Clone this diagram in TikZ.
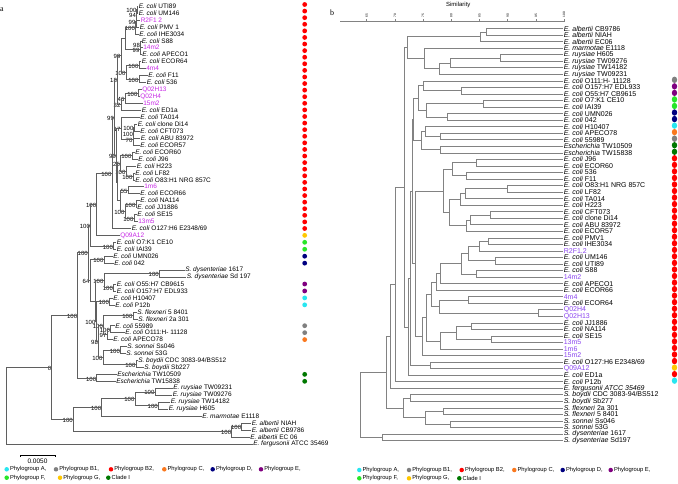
\documentclass[tikz,border=0pt]{standalone}
\usepackage{fontspec}
\setmainfont{Liberation Sans}
\newfontfamily\serifF{Liberation Serif}
\usetikzlibrary{calc,shapes.geometric}
\definecolor{cA}{RGB}{40,230,240}
\definecolor{cBa}{RGB}{128,128,128}
\definecolor{cBb}{RGB}{255,0,0}
\definecolor{cC}{RGB}{250,120,30}
\definecolor{cD}{RGB}{0,0,128}
\definecolor{cE}{RGB}{128,0,128}
\definecolor{cF}{RGB}{40,230,40}
\definecolor{cG}{RGB}{255,200,0}
\definecolor{cI}{RGB}{0,120,0}
\definecolor{magL}{RGB}{200,40,230}
\definecolor{magR}{RGB}{140,70,240}
\definecolor{brL}{RGB}{95,95,95}
\definecolor{brR}{RGB}{130,130,130}
\newcommand\ec{\textit{E. coli}}
\newcommand\ii[1]{\textit{#1}}
\tikzset{
 brl/.style={draw=brL, line width=0.45pt},
 brr/.style={draw=brR, line width=0.5pt},
 lbl/.style={anchor=west, inner sep=0.6pt, font=\fontsize{6.5}{6.5}\selectfont},
 lbr/.style={anchor=west, inner sep=0.6pt, font=\fontsize{7}{7}\selectfont},
 bs/.style={anchor=east, inner sep=0.4pt, yshift=-1.2pt, font=\fontsize{6}{6}\selectfont},
 dotl/.style={circle, inner sep=0pt, minimum size=4.8pt},
 dotr/.style={ellipse, inner sep=0pt, minimum width=5.4pt, minimum height=6.4pt},
 lgd/.style={circle, inner sep=0pt, minimum size=4.5pt},
 lgt/.style={anchor=west, inner sep=0.5pt, font=\fontsize{5.8}{5.8}\selectfont},
 tkl/.style={rotate=90, anchor=west, inner sep=0.3pt, font=\fontsize{3.2}{3.2}\selectfont},
}
\newcommand\lfL[3]{\coordinate (L#1) at (#2,{6+(#1-1)*6.95}); \node[lbl] (L#1t) at (L#1) {#3};}
\newcommand\ndL[5]{\path let \p1=($(#3)!0.5!(#4)$) in coordinate (#1) at (#2,\y1); \draw[brl] (#1) |- (#3) (#1) |- (#4); \node[bs] (#1b) at (#1) {#5};}
\newcommand\lfR[2]{\coordinate (R#1) at (563,{28.5+(#1-1)*6.54}); \node[lbr] (R#1t) at (R#1) {#2};}
\newcommand\ndR[4]{\path let \p1=($(#3)!0.5!(#4)$) in coordinate (#1) at (#2,\y1); \draw[brr] (#1) |- (#3) (#1) |- (#4);}
\begin{document}
\begin{tikzpicture}[x=1pt,y=-1pt]
\useasboundingbox[fill=white] (0,0) rectangle (678,483);
\node[anchor=west, inner sep=0pt, font=\serifF\fontsize{8}{8}\selectfont] (pa) at (0,10) {a};
\node[anchor=west, inner sep=0pt, font=\serifF\fontsize{8}{8}\selectfont] (pb) at (330,12.7) {b};
% ---------------- left tree leaves
\lfL{1}{138}{\ec\ UTI89}
\lfL{2}{138}{\ec\ UM146}
\lfL{3}{140}{\textcolor{magL}{R2F1 2}}
\lfL{4}{139}{\ec\ PMV 1}
\lfL{5}{138.5}{\ec\ IHE3034}
\lfL{6}{141}{\ec\ S88}
\lfL{7}{142.5}{\textcolor{magL}{14m2}}
\lfL{8}{141.5}{\ec\ APECO1}
\lfL{9}{141}{\ec\ ECOR64}
\lfL{10}{145.5}{\textcolor{magL}{4m4}}
\lfL{11}{147.5}{\ec\ F11}
\lfL{12}{146}{\ec\ 536}
\lfL{13}{141.5}{\textcolor{magL}{Q02H13}}
\lfL{14}{139.5}{\textcolor{magL}{Q02H4}}
\lfL{15}{142.5}{\textcolor{magL}{15m2}}
\lfL{16}{141}{\ec\ ED1a}
\lfL{17}{139.5}{\ec\ TA014}
\lfL{18}{137}{\ec\ clone Di14}
\lfL{19}{139.5}{\ec\ CFT073}
\lfL{20}{140}{\ec\ ABU 83972}
\lfL{21}{139.5}{\ec\ ECOR57}
\lfL{22}{134.5}{\ec\ ECOR60}
\lfL{23}{137.5}{\ec\ J96}
\lfL{24}{136}{\ec\ H223}
\lfL{25}{134.5}{\ec\ LF82}
\lfL{26}{134.5}{\ec\ O83:H1 NRG 857C}
\lfL{27}{143.5}{\textcolor{magL}{1m6}}
\lfL{28}{139.5}{\ec\ ECOR66}
\lfL{29}{139.5}{\ec\ NA114}
\lfL{30}{136.5}{\ec\ JJ1886}
\lfL{31}{136.5}{\ec\ SE15}
\lfL{32}{137.5}{\textcolor{magL}{13m5}}
\lfL{33}{131}{\ec\ O127:H6 E2348/69}
\lfL{34}{119.5}{\textcolor{magL}{Q09A12}}
\lfL{35}{116}{\ec\ O7:K1 CE10}
\lfL{36}{116}{\ec\ IAI39}
\lfL{37}{112.5}{\ec\ UMN026}
\lfL{38}{113.5}{\ec\ 042}
\lfL{39}{184.5}{\ii{S. dysenteriae} 1617}
\lfL{40}{186}{\ii{S. dysenteriae} Sd 197}
\lfL{41}{116}{\ec\ O55:H7 CB9615}
\lfL{42}{116}{\ec\ O157:H7 EDL933}
\lfL{43}{112.5}{\ec\ H10407}
\lfL{44}{114.5}{\ec\ P12b}
\lfL{45}{136.5}{\ii{S. flexneri} 5 8401}
\lfL{46}{137.5}{\ii{S. flexneri} 2a 301}
\lfL{47}{114.5}{\ec\ 55989}
\lfL{48}{124.5}{\ec\ O111:H- 11128}
\lfL{49}{112.5}{\ec\ APECO78}
\lfL{50}{126.5}{\ii{S. sonnei} Ss046}
\lfL{51}{125.5}{\ii{S. sonnei} 53G}
\lfL{52}{137.5}{\ii{S. boydii} CDC 3083-94/BS512}
\lfL{53}{143.5}{\ii{S. boydii} Sb227}
\lfL{54}{116.5}{\ii{Escherichia} TW10509}
\lfL{55}{115.5}{\ii{Escherichia} TW15838}
\lfL{56}{172.5}{\ii{E. ruysiae} TW09231}
\lfL{57}{172}{\ii{E. ruysiae} TW09276}
\lfL{58}{170}{\ii{E. ruysiae} TW14182}
\lfL{59}{168}{\ii{E. ruysiae} H605}
\lfL{60}{201.5}{\ii{E. marmotae} E1118}
\lfL{61}{251}{\ii{E. albertii} NIAH}
\lfL{62}{251}{\ii{E. albertii} CB9786}
\lfL{63}{249.5}{\ii{E. albertii} EC 06}
\lfL{64}{252.5}{\ii{E. fergusonii} ATCC 35469}
% ---------------- left tree internal nodes
\ndL{n1}{137}{L1}{L2}{100}
\ndL{n2}{136.5}{n1}{L3}{94}
\ndL{n3}{136}{n2}{L4}{99}
\ndL{n4}{135.5}{n3}{L5}{100}
\ndL{n5}{140.5}{L6}{L7}{98}
\ndL{n6}{140}{n5}{L8}{99}
\ndL{n7}{125}{n4}{n6}{}
\ndL{n8}{139}{L9}{L10}{100}
\ndL{n9}{139}{L11}{L12}{100}
\ndL{n10}{126}{n8}{n9}{100}
\ndL{n11}{121}{n7}{n10}{99}
\ndL{n12}{138}{L13}{L14}{100}
\ndL{n13}{125}{n12}{L15}{46}
\ndL{n14}{121}{n13}{L16}{32}
\ndL{n15}{117.5}{n11}{n14}{18}
\ndL{n16}{134}{L18}{L19}{100}
\ndL{n17}{133.5}{n16}{L20}{100}
\ndL{n18}{133}{n17}{L21}{70}
\ndL{n19}{121}{L17}{n18}{17}
\ndL{n21}{132}{L22}{L23}{100}
\ndL{n22}{133}{L25}{L26}{100}
\ndL{n23}{126}{L24}{n22}{100}
\ndL{n24}{120.5}{n21}{n23}{25}
\ndL{n25}{128}{L27}{L28}{55}
\ndL{n26}{136}{L29}{L30}{100}
\ndL{n27}{134}{L31}{L32}{100}
\ndL{n28}{125}{n26}{n27}{100}
\ndL{n29}{120}{n25}{n28}{}
\ndL{n30}{117.5}{n24}{n29}{}
\ndL{n20}{116.5}{n19}{n30}{99}
\ndL{n31}{114.5}{n15}{n20}{99}
\ndL{nB}{112}{n31}{L33}{100}
\ndL{nG}{96.7}{nB}{L34}{100}
\ndL{nF}{113.5}{L35}{L36}{100}
\ndL{nGF}{90.5}{nG}{nF}{100}
\ndL{nD}{104}{L37}{L38}{100}
\ndL{nSD}{159.3}{L39}{L40}{100}
\ndL{nOE}{113.5}{L41}{L42}{100}
\ndL{nE}{104}{nSD}{nOE}{100}
\ndL{nHP}{109.5}{L43}{L44}{100}
\ndL{nFL}{133}{L45}{L46}{100}
\ndL{nBa}{110.5}{L47}{L48}{100}
\ndL{nBb}{107}{nBa}{L49}{97}
\ndL{nFB}{103.5}{nFL}{nBb}{100}
\ndL{nSS}{120.5}{L50}{L51}{100}
\ndL{nBB}{136}{L52}{L53}{100}
\ndL{nSB2}{103}{nSS}{nBB}{100}
\ndL{nSB}{98.5}{nFB}{nSB2}{98}
\ndL{nAB}{96}{nHP}{nSB}{100}
\ndL{nS}{95}{nE}{nAB}{}
\ndL{nR}{90}{nD}{nS}{64}
\ndL{nQ}{88.3}{nGF}{nR}{100}
\ndL{nESC}{96.7}{L54}{L55}{100}
\ndL{nP}{77.7}{nQ}{nESC}{100}
\ndL{nR1}{155}{L56}{L57}{100}
\ndL{nR2}{158.3}{L58}{L59}{100}
\ndL{nRU}{135}{nR1}{nR2}{100}
\ndL{nRM}{101.7}{nRU}{L60}{100}
\ndL{nAL1}{241.7}{L61}{L62}{100}
\ndL{nAL}{231.7}{nAL1}{L63}{100}
\ndL{nOUT}{73.3}{nRM}{nAL}{100}
\ndL{nZ}{51.7}{nP}{nOUT}{0}
\ndL{nROOT}{6.7}{nZ}{L64}{}
% left dots
\foreach \k in {0,...,34} {\node[dotl, fill=cBb] (dl\k) at (304.7,{4.5+\k*6.588}) {};}
\foreach \i/\c in {34/cG,35/cF,36/cF,37/cD,38/cD,41/cE,42/cE,43/cA,44/cA,47/cBa,48/cBa,49/cC,54/cI,55/cI}
  {\node[dotl, fill=\c] (dm\i) at (304.7,{6+(\i-1)*6.95}) {};}
% scale bar
\coordinate (sb1) at (20,455); \coordinate (sb2) at (55,455);
\draw[line width=0.5pt] (sb1) -- (sb2);
\draw[line width=0.5pt] (sb1) -- ++(0,2); \draw[line width=0.5pt] (sb2) -- ++(0,2);
\node[font=\fontsize{6.5}{6.5}\selectfont, inner sep=0pt] (sbt) at (37.5,461) {0.0050};
% left legend
\foreach \n/\x/\c/\t/\y in {A/6.7/cA/{Phylogroup A,}/469.3, B1/56/cBa/{Phylogroup B1,}/469.3, B2/111/cBb/{Phylogroup B2,}/469.3, C/164.3/cC/{Phylogroup C,}/469.3, D/212.7/cD/{Phylogroup D,}/469.3, E/261/cE/{Phylogroup E,}/469.3, F/6.7/cF/{Phylogroup F,}/477.7, G/60/cG/{Phylogroup G,}/477.7, I/108.3/cI/{Clade I}/477.7}
  {\node[lgd, fill=\c] (lgl\n) at (\x,\y) {}; \node[lgt] (lglt\n) at (\x+2.6,\y) {\t};}
% ---------------- right tree
\coordinate (ax0) at (340,21.7); \coordinate (ax1) at (564.1,21.7);
\draw[brr] (ax0) -- (ax1);
\foreach \k/\v in {0/65,1/70,2/75,3/80,4/85,5/90,6/95,7/100}
  {\coordinate (tk\k) at (366.7+\k*28.2,21.7);
   \draw[brr] (tk\k) -- ++(0,-3);
   \node[tkl] (tkl\k) at (366.7+\k*28.2,18) {\v};}
\node[font=\fontsize{6}{6}\selectfont, inner sep=0pt] (sim) at (458.3,4.5) {Similarity};
\lfR{1}{\ii{E. albertii} CB9786}
\lfR{2}{\ii{E. albertii} NIAH}
\lfR{3}{\ii{E. albertii} EC06}
\lfR{4}{\ii{E. marmotae} E1118}
\lfR{5}{\ii{E. ruysiae} H605}
\lfR{6}{\ii{E. ruysiae} TW09276}
\lfR{7}{\ii{E. ruysiae} TW14182}
\lfR{8}{\ii{E. ruysiae} TW09231}
\lfR{9}{\ec\ O111:H- 11128}
\lfR{10}{\ec\ O157:H7 EDL933}
\lfR{11}{\ec\ O55:H7 CB9615}
\lfR{12}{\ec\ O7:K1 CE10}
\lfR{13}{\ec\ IAI39}
\lfR{14}{\ec\ UMN026}
\lfR{15}{\ec\ 042}
\lfR{16}{\ec\ H10407}
\lfR{17}{\ec\ APECO78}
\lfR{18}{\ec\ 55989}
\lfR{19}{\ii{Escherichia} TW10509}
\lfR{20}{\ii{Escherichia} TW15838}
\lfR{21}{\ec\ J96}
\lfR{22}{\ec\ ECOR60}
\lfR{23}{\ec\ 536}
\lfR{24}{\ec\ F11}
\lfR{25}{\ec\ O83:H1 NRG 857C}
\lfR{26}{\ec\ LF82}
\lfR{27}{\ec\ TA014}
\lfR{28}{\ec\ H223}
\lfR{29}{\ec\ CFT073}
\lfR{30}{\ec\ clone Di14}
\lfR{31}{\ec\ ABU 83972}
\lfR{32}{\ec\ ECOR57}
\lfR{33}{\ec\ PMV1}
\lfR{34}{\ec\ IHE3034}
\lfR{35}{\textcolor{magR}{R2F1.2}}
\lfR{36}{\ec\ UM146}
\lfR{37}{\ec\ UTI89}
\lfR{38}{\ec\ S88}
\lfR{39}{\textcolor{magR}{14m2}}
\lfR{40}{\ec\ APECO1}
\lfR{41}{\ec\ ECOR66}
\lfR{42}{\textcolor{magR}{4m4}}
\lfR{43}{\ec\ ECOR64}
\lfR{44}{\textcolor{magR}{Q02H4}}
\lfR{45}{\textcolor{magR}{Q02H13}}
\lfR{46}{\ec\ JJ1886}
\lfR{47}{\ec\ NA114}
\lfR{48}{\ec\ SE15}
\lfR{49}{\textcolor{magR}{13m5}}
\lfR{50}{\textcolor{magR}{1m6}}
\lfR{51}{\textcolor{magR}{15m2}}
\lfR{52}{\ec\ O127:H6 E2348/69}
\lfR{53}{\textcolor{magR}{Q09A12}}
\lfR{54}{\ec\ ED1a}
\lfR{55}{\ec\ P12b}
\lfR{56}{\ii{E. fergusonii ATCC 35469}}
\lfR{57}{\ii{S. boydii} CDC 3083-94/BS512}
\lfR{58}{\ii{S. boydii} Sb277}
\lfR{59}{\ii{S. flexneri} 2a 301}
\lfR{60}{\ii{S. flexneri} 5 8401}
\lfR{61}{\ii{S. sonnei} Ss046}
\lfR{62}{\ii{S. sonnei} 53G}
\lfR{63}{\ii{S. dysenteriae} 1617}
\lfR{64}{\ii{S. dysenteriae} Sd197}
\ndR{ra1}{486.7}{R1}{R2}
\ndR{ra2}{480}{ra1}{R3}
\ndR{rm1}{500}{R5}{R6}
\ndR{rm2}{450}{rm1}{R7}
\ndR{rm3}{439.3}{rm2}{R8}
\ndR{rm4}{424.3}{R4}{rm3}
\ndR{ro1}{407.7}{ra2}{rm4}
\ndR{re1}{461.7}{R10}{R11}
\ndR{re2}{423.3}{R9}{re1}
\ndR{rf1}{483.3}{R12}{R13}
\ndR{rd1}{447.3}{R14}{R15}
\ndR{rfd}{426.7}{rf1}{rd1}
\ndR{re3}{418}{re2}{rfd}
\ndR{rc1}{440}{R17}{R18}
\ndR{rc2}{425}{R16}{rc1}
\ndR{rs1}{440}{R19}{R20}
\ndR{rc3}{421.7}{rc2}{rs1}
\ndR{rg2}{413.3}{re3}{rc3}
\ndR{rb1}{476}{R21}{R22}
\ndR{rb2}{466.7}{R23}{R24}
\ndR{rb3}{452}{rb1}{rb2}
\ndR{rb4}{507.3}{R25}{R26}
\ndR{rb5}{465}{rb4}{R27}
\ndR{rb6}{460}{rb5}{R28}
\ndR{rb7}{490.7}{R29}{R30}
\ndR{rb8}{470}{rb7}{R31}
\ndR{rb9}{466}{rb8}{R32}
\ndR{rb10}{449.3}{rb6}{rb9}
\ndR{rb11}{443.3}{rb3}{rb10}
\ndR{rb12}{488.3}{R33}{R34}
\ndR{rb13}{479}{rb12}{R35}
\ndR{rb14}{495}{R36}{R37}
\ndR{rb15}{468.3}{rb13}{rb14}
\ndR{rb16}{476.7}{R38}{R39}
\ndR{rb17}{461}{rb15}{rb16}
\ndR{rb18}{440}{rb17}{R40}
\ndR{rb19}{436}{rb18}{R41}
\ndR{rb20}{468.3}{R42}{R43}
\ndR{rb21}{538.3}{R44}{R45}
\ndR{rb22}{439}{rb20}{rb21}
\ndR{rb23}{431}{rb19}{rb22}
\ndR{rb24}{471.7}{R46}{R47}
\ndR{rb25}{491.7}{R48}{R49}
\ndR{rb26}{456.7}{rb24}{rb25}
\ndR{rb27}{440}{rb26}{R50}
\ndR{rb29}{426}{rb23}{rb27}
\ndR{rb28}{422.7}{rb29}{R51}
\ndR{rb30}{415}{rb11}{rb28}
\ndR{rU}{412}{rg2}{rb30}
\ndR{rb31}{430}{R52}{R53}
\ndR{rb32}{410}{rU}{rb31}
\ndR{rb33}{408.3}{rb32}{R54}
\ndR{rZ}{404}{ro1}{rb33}
\ndR{rb34}{395}{rZ}{R55}
\ndR{rfg}{390}{rb34}{R56}
\ndR{rbb}{410}{R57}{R58}
\ndR{rfl}{443.3}{R59}{R60}
\ndR{rss}{450}{R61}{R62}
\ndR{rfs}{425}{rfl}{rss}
\ndR{rsh}{403.3}{rbb}{rfs}
\ndR{rx}{386.7}{rfg}{rsh}
\ndR{rdy}{382.7}{R63}{R64}
\ndR{rroot}{360}{rx}{rdy}
% right dots
\foreach \i/\c in {9/cBa,10/cE,11/cE,12/cF,13/cF,14/cD,15/cD,16/cA,17/cC,18/cBa,19/cI,20/cI,53/cG,54/cBb,55/cA}
  {\node[dotr, fill=\c] (dr\i) at (674.5,{28.5+(\i-1)*6.54-1}) {};}
\foreach \i in {21,...,52} {\node[dotr, fill=cBb] (dr\i) at (674.5,{28.5+(\i-1)*6.54-1}) {};}
% right legend
\foreach \n/\x/\c/\t/\y in {A/359.3/cA/{Phylogroup A,}/470, B1/409/cBa/{Phylogroup B1,}/470, B2/461.7/cBb/{Phylogroup B2,}/470, C/514.3/cC/{Phylogroup C,}/470, D/562.7/cD/{Phylogroup D,}/470, E/610.7/cE/{Phylogroup E,}/470, F/359.3/cF/{Phylogroup F,}/478.3, G/409/cG/{Phylogroup G,}/478.3, I/459.3/cI/{Clade I}/478.3}
  {\node[lgd, fill=\c] (lgr\n) at (\x,\y) {}; \node[lgt] (lgrt\n) at (\x+2.6,\y) {\t};}
\end{tikzpicture}
\end{document}
